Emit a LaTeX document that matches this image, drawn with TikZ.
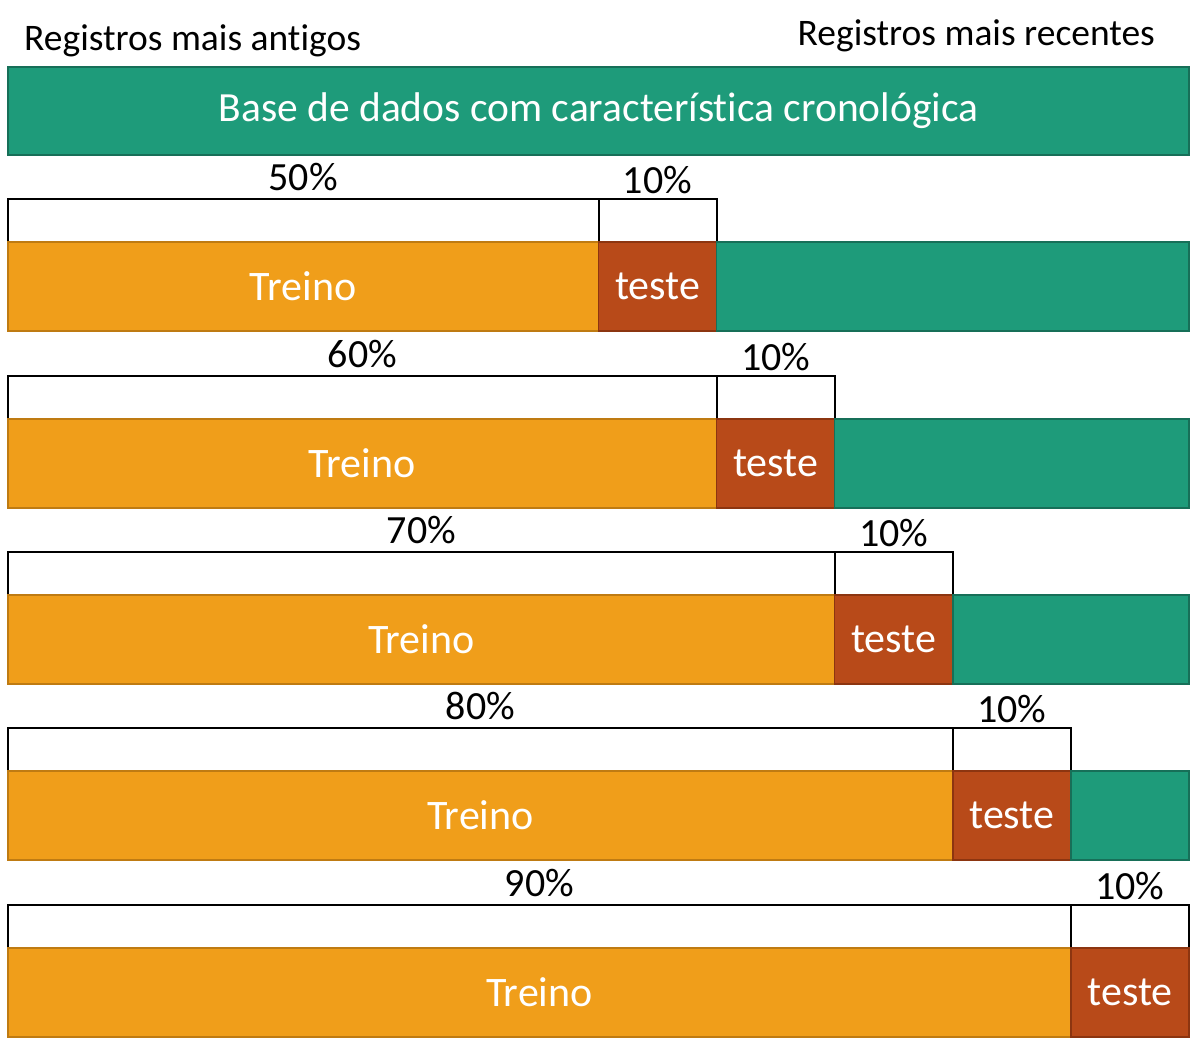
\documentclass[tikz,border=0pt]{standalone}
\usepackage{fontspec}
\setmainfont{Carlito}[Ligatures=CommonOff]
\usetikzlibrary{positioning}
\definecolor{baseGreen}{HTML}{1E9B7A}
\definecolor{baseGreenDark}{HTML}{176F58}
\definecolor{treinoOrange}{HTML}{F09E1A}
\definecolor{treinoOrangeDark}{HTML}{BF7B12}
\definecolor{testeRust}{HTML}{B84A19}
\definecolor{testeRustDark}{HTML}{8C3510}

\begin{document}
\begin{tikzpicture}[x=1pt, y=-1pt,
  bar/.style={rectangle, line width=1.5pt, minimum height=89pt, inner sep=0pt, outer sep=0pt,
    text=white, font=\fontsize{42}{46}\selectfont},
  treino/.style={bar, fill=treinoOrange, draw=treinoOrangeDark},
  teste/.style={bar, fill=testeRust, draw=testeRustDark, minimum width=118.1pt},
  resto/.style={bar, fill=baseGreen, draw=baseGreenDark},
  caixa/.style={rectangle, draw=black, line width=2pt, fill=white, minimum height=43pt,
    inner sep=0pt, outer sep=0pt, anchor=north west},
  rotulo/.style={inner sep=0pt, anchor=base, font=\fontsize{40}{44}\selectfont},
  topo/.style={inner sep=0pt, font=\fontsize{37.5}{42}\selectfont}]

  \useasboundingbox (0,0) rectangle (1198,1044);

  % cabecalho
  \node[topo, anchor=base west] (antigos) at (24,50) {Registros mais antigos};
  \node[topo, anchor=base east] (recentes) at (1155,45) {Registros mais recentes};
  \node[resto, anchor=north west, minimum width=1181pt, minimum height=88pt,
    font=\fontsize{41.5}{46}\selectfont] (base) at (8,67)
    {Base de dados com característica cronológica};

  % janelas de treino/teste
  \foreach \n/\top in {5/199, 6/376, 7/552, 8/728, 9/905} {
    \node[caixa, minimum width=\n*118.1pt] (caixaA\n) at (8,\top) {};
    \node[caixa, minimum width=118.1pt, right=0pt of caixaA\n] (caixaB\n) {};
    \node[treino, minimum width=\n*118.1pt, below=0pt of caixaA\n] (treino\n) {Treino};
    \node[teste, right=0pt of treino\n] (teste\n) {teste};
    \ifnum\n<9
      \node[resto, minimum width=(9-\n)*118.1pt, right=0pt of teste\n] (resto\n) {};
    \fi
    \node[rotulo, above=9pt of caixaA\n.north, anchor=base] (pctA\n) {\n0\%};
    \node[rotulo, above=6pt of caixaB\n.north, anchor=base] (pctB\n) {10\%};
  }
\end{tikzpicture}
\end{document}
